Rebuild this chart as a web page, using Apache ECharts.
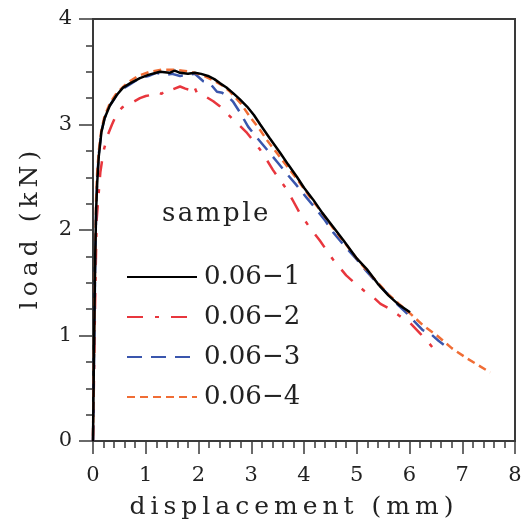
<!DOCTYPE html>
<html>
<head>
<meta charset="utf-8">
<script src="https://cdn.jsdelivr.net/npm/echarts@6/dist/echarts.min.js"></script>
<style>html,body{margin:0;padding:0;background:#fff;}#c{width:526px;height:525px;}</style>
</head>
<body>
<div id="c"></div>
<script>
var xTicks = [0,1,2,3,4,5,6,7,8];
var yTicks = [0,1,2,3,4];
var names = ['0.06\u22121','0.06\u22122','0.06\u22123','0.06\u22124'];
var legendTitle = 'sample';
var xName = 'displacement (mm)';
var yName = 'load (kN)';

var s1 = [[0,0],[0.02,0.9],[0.04,1.7],[0.06,2.2],[0.08,2.45],[0.11,2.7],[0.16,2.93],[0.22,3.06],[0.32,3.18],[0.45,3.28],[0.57,3.35],[0.7,3.39],[0.89,3.44],[1.05,3.47],[1.27,3.5],[1.45,3.49],[1.55,3.51],[1.65,3.49],[1.8,3.48],[1.93,3.49],[2.05,3.48],[2.18,3.46],[2.3,3.43],[2.41,3.39],[2.53,3.35],[2.65,3.3],[2.78,3.24],[2.92,3.17],[3.05,3.09],[3.17,3.0],[3.35,2.87],[3.55,2.73],[3.7,2.62],[3.87,2.5],[4.0,2.4],[4.17,2.29],[4.35,2.16],[4.55,2.03],[4.75,1.9],[5.0,1.73],[5.19,1.63],[5.4,1.49],[5.6,1.38],[5.8,1.29],[6.01,1.22]];
var s2 = [[0,0],[0.01,0.3],[0.03,1.0],[0.05,1.6],[0.07,2.1],[0.1,2.3],[0.14,2.55],[0.2,2.75],[0.28,2.9],[0.36,3.0],[0.45,3.1],[0.55,3.16],[0.64,3.19],[0.75,3.21],[0.89,3.25],[1.0,3.27],[1.1,3.28],[1.21,3.31],[1.3,3.29],[1.4,3.34],[1.5,3.33],[1.65,3.36],[1.75,3.34],[1.82,3.33],[1.9,3.38],[1.97,3.3],[2.05,3.29],[2.15,3.26],[2.28,3.22],[2.41,3.17],[2.55,3.1],[2.69,3.03],[2.8,2.98],[2.92,2.92],[3.05,2.84],[3.17,2.76],[3.3,2.66],[3.41,2.57],[3.55,2.47],[3.68,2.38],[3.8,2.27],[3.92,2.16],[4.1,2.03],[4.3,1.9],[4.55,1.72],[4.8,1.57],[5.0,1.48],[5.15,1.42],[5.3,1.37],[5.45,1.3],[5.6,1.26],[5.8,1.19],[6.01,1.12],[6.2,1.02],[6.35,0.94],[6.48,0.86]];
var s3 = [[0,0],[0.02,0.8],[0.04,1.6],[0.06,2.2],[0.08,2.5],[0.11,2.72],[0.16,2.93],[0.22,3.06],[0.32,3.18],[0.45,3.28],[0.57,3.34],[0.7,3.38],[0.89,3.44],[1.05,3.46],[1.2,3.49],[1.35,3.47],[1.5,3.48],[1.65,3.46],[1.8,3.47],[1.93,3.48],[2.0,3.45],[2.09,3.41],[2.17,3.4],[2.25,3.37],[2.35,3.31],[2.45,3.3],[2.55,3.27],[2.65,3.22],[2.78,3.12],[2.94,2.98],[3.1,2.88],[3.3,2.76],[3.5,2.64],[3.68,2.53],[3.85,2.43],[4.06,2.3],[4.24,2.19],[4.4,2.09],[4.55,1.98],[4.75,1.86],[5.0,1.72],[5.2,1.6],[5.4,1.49],[5.63,1.37],[5.8,1.28],[5.95,1.21],[6.1,1.13],[6.25,1.05],[6.39,1.02],[6.55,0.95],[6.71,0.89]];
var s4 = [[0,0.05],[0.02,0.9],[0.04,1.7],[0.06,2.3],[0.08,2.55],[0.11,2.75],[0.16,2.95],[0.22,3.08],[0.32,3.2],[0.45,3.3],[0.64,3.39],[0.85,3.46],[1.08,3.5],[1.3,3.52],[1.52,3.52],[1.7,3.51],[1.84,3.5],[2.0,3.48],[2.15,3.45],[2.27,3.42],[2.45,3.37],[2.6,3.31],[2.8,3.2],[2.98,3.07],[3.15,2.96],[3.3,2.85],[3.5,2.72],[3.7,2.59],[3.9,2.46],[4.1,2.32],[4.3,2.19],[4.55,2.02],[4.8,1.86],[5.0,1.73],[5.2,1.61],[5.4,1.5],[5.6,1.39],[5.8,1.3],[6.01,1.21],[6.25,1.1],[6.52,1.0],[6.8,0.88],[7.1,0.78],[7.3,0.72],[7.53,0.65]];

// wider tracking for the axis titles and legend title, as in the reference typesetting
var tracking = {};
tracking[xName] = '5px'; tracking[yName] = '5px'; tracking[legendTitle] = '2.5px';
(function(){
  var P = CanvasRenderingContext2D.prototype, orig = P.fillText;
  P.fillText = function(t, x, y, w) {
    var sp = tracking[t];
    if ('letterSpacing' in this) {
      var want = sp || '0px';
      if (this.letterSpacing !== want) { this.letterSpacing = want; var f = this.font; this.font = f; }
    }
    return orig.apply(this, arguments);
  };
})();

var FONT = 'DejaVu Serif';
var axisCol = '#3a3a3a';
var textCol = '#222';
var chart = echarts.init(document.getElementById('c'), null, {renderer:'canvas'});
function mkSeries(name, data, color, type, width, z) {
  return {name:name, type:'line', data:data, showSymbol:false, symbol:'none', smooth:false, z:z,
    lineStyle:{color:color, width:width, type:type, cap:'butt'}, itemStyle:{color:color}, animation:false};
}
chart.setOption({
  animation:false,
  grid:{left:93, right:11, top:19, bottom:84, show:true, borderColor:axisCol, borderWidth:2, containLabel:false},
  xAxis:{type:'value', min:xTicks[0], max:xTicks[xTicks.length-1], interval:1,
    name:xName, nameLocation:'middle', nameGap:54,
    nameTextStyle:{fontFamily:FONT, fontSize:25, color:textCol, padding:[0,20,0,0]},
    axisLine:{show:true, onZero:false, lineStyle:{color:axisCol, width:2}},
    axisTick:{show:true, inside:false, length:13, lineStyle:{color:axisCol, width:1.5}},
    minorTick:{show:true, splitNumber:5, length:7, lineStyle:{color:axisCol, width:1.5}},
    axisLabel:{fontFamily:FONT, fontSize:21, color:textCol, margin:24},
    splitLine:{show:false}},
  yAxis:{type:'value', min:yTicks[0], max:yTicks[yTicks.length-1], interval:1,
    name:yName, nameLocation:'middle', nameGap:50,
    nameTextStyle:{fontFamily:FONT, fontSize:25, color:textCol, padding:[0,0,0,5]},
    axisLine:{show:true, onZero:false, lineStyle:{color:axisCol, width:2}},
    axisTick:{show:true, inside:false, length:14, lineStyle:{color:axisCol, width:1.5}},
    minorTick:{show:true, splitNumber:4, length:7, lineStyle:{color:axisCol, width:1.5}},
    axisLabel:{fontFamily:FONT, fontSize:21, color:textCol, margin:21},
    splitLine:{show:false}},
  legend:{show:true, orient:'vertical', left:126, top:264, padding:0, itemWidth:70, itemHeight:14, itemGap:14,
    data:names, itemStyle:{opacity:0},
    textStyle:{fontFamily:FONT, fontSize:26, color:textCol, padding:[0,0,0,2]}},
  graphic:[{type:'text', left:162, top:201, style:{text:legendTitle, fontFamily:FONT, fontSize:26, fill:textCol}}],
  series:[
    mkSeries(names[1], s2, '#e8363d', [16,12,4,12], 2.5, 2),
    mkSeries(names[2], s3, '#3a56ad', [15,9], 2.5, 3),
    mkSeries(names[3], s4, '#f06d35', [8,5], 2.5, 4),
    mkSeries(names[0], s1, '#000000', 'solid', 2.5, 5)
  ]
});
</script>
</body>
</html>
